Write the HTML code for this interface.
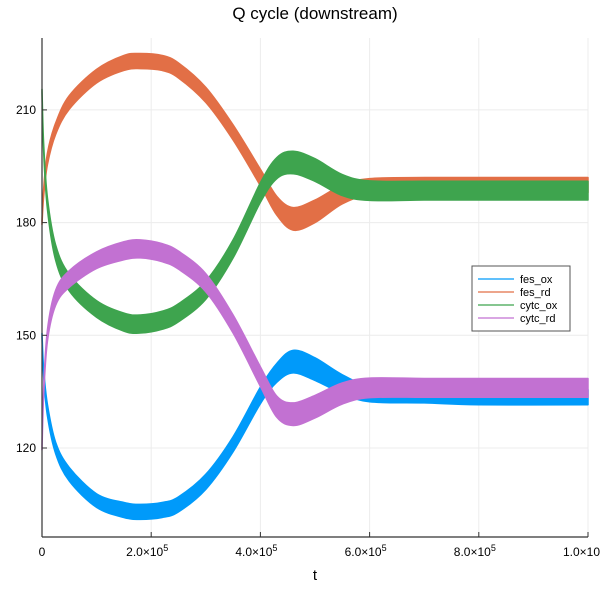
<!DOCTYPE html>
<html><head><meta charset="utf-8"><style>
body{margin:0;background:#fff;}
svg{display:block;font-family:"Liberation Sans","DejaVu Sans",sans-serif;}
</style></head><body>
<svg id="chart" width="600" height="600" viewBox="0 0 600 600" xmlns="http://www.w3.org/2000/svg">
<rect width="600" height="600" fill="#fff"/>
<text x="315" y="19" font-size="17" text-anchor="middle" fill="#000">Q cycle (downstream)</text>
<g id="grid"></g>
<g id="series"></g>
<g id="axes"></g>
<text x="315" y="580" font-size="15" text-anchor="middle">t</text>
<g>
<rect x="472" y="266" width="98" height="65" fill="#fff" stroke="#555" stroke-width="1"/>
<g id="legend-items"></g>
</g>
</svg>
<script>
const tVals = [0,0.03,0.1,0.25,0.5,1,1.5,1.8,2.2,2.5,3,3.5,4,4.3,4.6,5,5.5,6,7,8,10];
const fesOx = [150,140,130,120,113,106,103.5,103,103.5,105,111,121,134,140,143,141,137,134.5,134,133.5,133.5];
const fesRd = [180,188,197,205,212,219,222.5,223,222.5,220.5,214,204,192,184.5,181,183,187.5,189.5,190,190,190];
const cytcOx = [215,200,185,172,164,157,153.5,153,154,156,162,173,188,194.5,196,194,190,188.5,188.5,188.5,188.5];
const cytcRd = [120,135,150,160,165,170,172.5,173,172,170,164,153,139,131,129,131,134.5,136,136,136,136];
const halfFes = [0.5,1,1.5,1.5,1.8,1.8,2,2,2,2,2,2,2.2,2.5,3,3,2.5,2.2,2,2,2];
const halfCytc = [0.5,1,1.5,2,2.2,2.2,2.4,2.4,2.4,2.4,2.4,2.4,2.6,2.8,3,3,2.8,2.6,2.5,2.5,2.5];
const xTicks = [0,2,4,6,8,10];
const xTickLabels = ["0","2.0×10","4.0×10","6.0×10","8.0×10","1.0×10"];
const yTicks = [120,150,180,210];
const seriesNames = ["fes_ox","fes_rd","cytc_ox","cytc_rd"];
const colors = ["#009AFA","#E26F46","#3EA44E","#C271D2"];

const X0=42,X1=588,Y0=537,Y1=38;
function sx(t){return X0+(t-0)/(10-0)*(X1-X0);}
function sy(v){return 448-(v-120)*(112.7/30);}
const NS="http://www.w3.org/2000/svg";
function mk(tag,attrs,parent){const e=document.createElementNS(NS,tag);for(const k in attrs)e.setAttribute(k,attrs[k]);parent.appendChild(e);return e;}
const grid=document.getElementById('grid'),axes=document.getElementById('axes'),ser=document.getElementById('series');
xTicks.forEach((t,i)=>{
  const l=mk('line',{x1:sx(t),x2:sx(t),y1:Y1,y2:Y0,stroke:'#ececec','stroke-width':1},grid);
  
  
  const tk=mk('line',{x1:sx(t),x2:sx(t),y1:Y0,y2:Y0-5,stroke:'#333','stroke-width':1},axes);
  
  
  const tx=mk('text',{x:sx(t)+(i===0?0:-4),y:556,'font-size':12,'text-anchor':'middle'},axes);
  
  
  tx.textContent=xTickLabels[i];
  if(i>0){const sp=mk('tspan',{'font-size':9,dy:-5},tx);sp.textContent='5';}
});
yTicks.forEach(v=>{
  const l=mk('line',{x1:X0,x2:X1,y1:sy(v),y2:sy(v),stroke:'#ececec','stroke-width':1},grid);
  
  
  const tk=mk('line',{x1:X0,x2:X0+5,y1:sy(v),y2:sy(v),stroke:'#333','stroke-width':1},axes);
  
  
  const tx=mk('text',{x:36,y:sy(v)+4,'font-size':12,'text-anchor':'end'},axes);
  
  
  tx.textContent=v;
});
const ax1=mk('line',{x1:X0,x2:X0,y1:Y1,y2:Y0,stroke:'#333','stroke-width':1.2},axes);


const ax2=mk('line',{x1:X0,x2:X1,y1:Y0,y2:Y0,stroke:'#333','stroke-width':1.2},axes);



function smooth(pts){
  let d='';
  for(let i=0;i<pts.length-1;i++){
    const p0=pts[Math.max(i-1,0)],p1=pts[i],p2=pts[i+1],p3=pts[Math.min(i+2,pts.length-1)];
    const c1=[p1[0]+(p2[0]-p0[0])/6,p1[1]+(p2[1]-p0[1])/6];
    const c2=[p2[0]-(p3[0]-p1[0])/6,p2[1]-(p3[1]-p1[1])/6];
    d+=` C${c1[0]},${c1[1]} ${c2[0]},${c2[1]} ${p2[0]},${p2[1]}`;
  }
  return d;
}
const allSeries=[[fesOx,halfFes],[fesRd,halfFes],[cytcOx,halfCytc],[cytcRd,halfCytc]];
allSeries.forEach((s,i)=>{
  const c=s[0],h=s[1];
  const up=tVals.map((t,j)=>[sx(t),sy(c[j]+h[j])]);
  const lo=tVals.map((t,j)=>[sx(t),sy(c[j]-h[j])]).reverse();
  const d='M'+up[0][0]+','+up[0][1]+smooth(up)+' L'+lo[0][0]+','+lo[0][1]+smooth(lo)+' Z';
  const p=mk('path',{d:d,fill:colors[i],stroke:colors[i],'stroke-width':1.5,'stroke-linejoin':'round'},ser);
  
  
});
const li=document.getElementById('legend-items');
seriesNames.forEach((n,i)=>{
  const y=279+i*13;
  const l=mk('line',{x1:478,x2:514,y1:y,y2:y,stroke:colors[i],'stroke-width':1.2},li);
  
  
  const t=mk('text',{x:520,y:y+4,'font-size':11},li);
  
  
  t.textContent=n;
});
</script>
</body></html>
